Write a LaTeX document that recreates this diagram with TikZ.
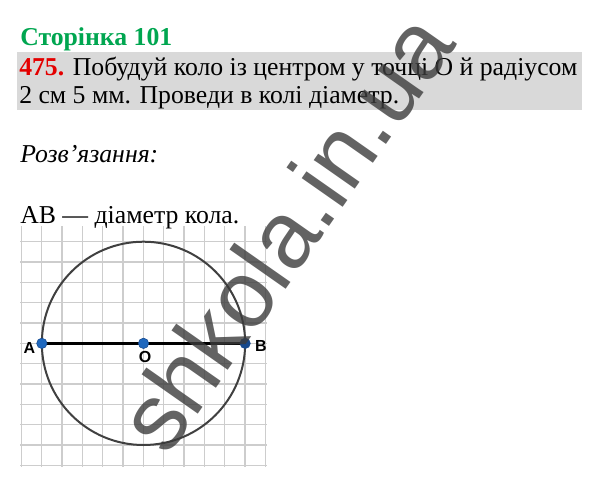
\documentclass[tikz,border=0pt]{standalone}
\usepackage{fontspec}
\setmainfont{Liberation Serif}
\newfontfamily\labelfont{Liberation Sans}
\definecolor{pagegreen}{RGB}{0,166,80}
\definecolor{numred}{RGB}{228,0,0}
\definecolor{taskgray}{RGB}{217,217,217}
\definecolor{gridgray}{RGB}{205,205,205}
\definecolor{dotblue}{RGB}{31,104,190}
\definecolor{dotdark}{RGB}{22,72,140}
\definecolor{markgray}{RGB}{60,60,60}
\tikzset{
  textline/.style={anchor=base west, inner sep=0pt, font=\fontsize{19.3}{21}\selectfont},
  gridline/.style={draw=gridgray, line width=1pt},
  circleline/.style={draw=black!75, line width=1.5pt},
  diameter/.style={draw=black, line width=2.2pt},
  dot/.style={circle, fill=dotblue, draw=dotdark, line width=0.4pt, minimum size=7.8pt, inner sep=0pt},
  ptlabel/.style={inner sep=0pt, font=\labelfont\bfseries\fontsize{12}{12}\selectfont}
}
\begin{document}
\begin{tikzpicture}[x=0.75pt, y=-0.75pt]
    \useasboundingbox (0,0) rectangle (600,487);

    % heading and task
    \node[textline, font=\fontsize{19.3}{21}\selectfont\bfseries, text=pagegreen] (page) at (20,45) {Сторінка 101};
    \fill[taskgray] (17,52) rectangle (582,110);
    \node[textline] (task1) at (19,75) {\textcolor{numred}{\textbf{475.}} Побудуй коло із центром у точці О й радіусом};
    \node[textline] (task2) at (19,103) {2 см 5 мм. Проведи в колі діаметр.};

    % solution
    \node[textline, font=\fontsize{19.3}{21}\selectfont\itshape] (solution) at (20,162) {Розв’язання:};
    \node[textline] (answer) at (20,223) {AB — діаметр кола.};

    % squared paper
    \foreach \i in {0,...,12}
        \draw[gridline] (21.5+20.33*\i,226) -- (21.5+20.33*\i,467);
    \foreach \j in {0,...,11}
        \draw[gridline] (20,241.7+20.33*\j) -- (267,241.7+20.33*\j);

    % circle and diameter
    \coordinate (centre) at (143.5,343.35);
    \coordinate (left end) at (41.85,343.35);
    \coordinate (right end) at (245.15,343.35);
    \draw[circleline] (centre) circle[radius=101.65];
    \draw[diameter] (left end) -- (right end);
    \node[dot] (A) at (left end) {};
    \node[dot] (O) at (centre) {};
    \node[dot, fill=dotdark] (B) at (right end) {};
    \node[ptlabel] (labelA) at (29.5,348) {A};
    \node[ptlabel] (labelO) at (145,356.5) {O};
    \node[ptlabel] (labelB) at (261,345.5) {B};

    % watermark
    \node[anchor=base west, inner sep=0pt, rotate=55, text=markgray, opacity=0.8,
          font=\labelfont\fontsize{71}{71}\selectfont] (mark) at (167.5,458) {shkola.in.ua};
\end{tikzpicture}
\end{document}
